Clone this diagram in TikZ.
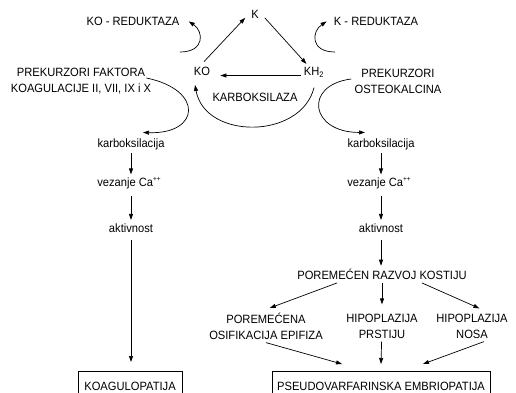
\documentclass[tikz,border=0pt]{standalone}
\usepackage{fontspec}
\setmainfont{Liberation Sans}[FakeStretch=0.93]
\usetikzlibrary{arrows.meta}

\begin{document}
\begin{tikzpicture}[x=1pt, y=-1pt, line width=0.7pt,
  >={Triangle[length=6pt,width=4pt]},
  every node/.style={font=\fontsize{12}{16}\selectfont, inner sep=3pt},
  endbox/.style={draw, anchor=north, minimum height=31pt, inner xsep=2pt}]

\useasboundingbox (0,0) rectangle (516,393);

\clip (0,0) rectangle (516,393);

\node[anchor=base] (K) at (255,19) {K};

\node[anchor=base] (KOred) at (133,25.5) {KO - REDUKTAZA};

\node[anchor=base] (Kred) at (376,25.5) {K - REDUKTAZA};

\node[anchor=base] (KO) at (202,75.5) {KO};

\node[anchor=base] (KH2) at (314,75.5) {KH\textsubscript{2}};

\node[anchor=base] (karbox) at (255,102) {KARBOKSILAZA};

\node[align=center] (prekL) at (81,81) {PREKURZORI FAKTORA\\KOAGULACIJE II, VII, IX i X};

\node[align=center] (prekR) at (398,81) {PREKURZORI\\OSTEOKALCINA};

\node[anchor=base] (karbL) at (131,147.5) {karboksilacija};

\node[anchor=base] (vezL) at (129,186.5) {vezanje Ca\smash{\raisebox{5pt}{\scriptsize ++}}};

\node[anchor=base] (aktL) at (131,232) {aktivnost};

\node[anchor=base] (karbR) at (381,147.5) {karboksilacija};

\node[anchor=base] (vezR) at (379,186.5) {vezanje Ca\smash{\raisebox{5pt}{\scriptsize ++}}};

\node[anchor=base] (aktR) at (381,232) {aktivnost};

\node[anchor=base] (porem) at (382,279.5) {POREMEĆEN RAZVOJ KOSTIJU};

\node[align=center] (osif) at (266,326) {POREMEĆENA\\OSIFIKACIJA EPIFIZA};

\node[align=center] (hipP) at (382,326) {HIPOPLAZIJA\\PRSTIJU};

\node[align=center] (hipN) at (472,326) {HIPOPLAZIJA\\NOSA};

\node[endbox, minimum width=104pt] (koag) at (130,371) {KOAGULOPATIJA};

\node[endbox, minimum width=218pt] (pseudo) at (381,371) {PSEUDOVARFARINSKA EMBRIOPATIJA};

\coordinate (KOcurl) at (180,52);

\coordinate (Kcurl) at (335,52);

\draw[->, shorten <=3pt, shorten >=4pt] (KO.north) -- (K.west);

\draw[->, shorten <=4pt] (K.east) -- (KH2);

\draw[->, shorten >=7pt] (KH2.base west) -- (KO.base east);

\draw[->] ([yshift=-7pt]KH2.south) .. controls +(-13,52) and +(10,55) .. ([xshift=-7pt,yshift=-6pt]KO.south);

\draw[->] (KOcurl) .. controls +(25,0) and +(15,10) .. ([xshift=6pt]KOred.east);

\draw[->] (Kcurl) .. controls +(-25,0) and +(-15,10) .. ([xshift=-4pt]Kred.west);

\draw[->] ([xshift=-8pt,yshift=3pt]prekL.east) .. controls +(58,12) and +(57,2) .. ([xshift=12pt,yshift=3pt]karbL.north);

\draw[->] ([yshift=2pt]prekR.west) .. controls +(-48,6) and +(-55,0) .. ([xshift=-16pt,yshift=3pt]karbR.north);

\draw[->] (karbL) -- (karbL |- vezL.north);

\draw[->, shorten <=4pt] (vezL.south -| aktL) -- (aktL);

\draw[->, shorten <=5pt, shorten >=9pt] (aktL) -- (aktL |- koag.north);

\draw[->] (karbR) -- (karbR |- vezR.north);

\draw[->, shorten <=4pt] (vezR.south -| aktR) -- (aktR);

\draw[->, shorten <=5pt] (aktR) -- (aktR |- porem.north);

\draw[->, shorten >=4pt] ([xshift=-45pt]porem.south) -- (osif.north);

\draw[->, shorten >=6pt] (porem) -- (hipP);

\draw[->, shorten >=5pt] ([xshift=40pt]porem.south) -- ([xshift=12pt]hipN.north);

\draw[->] (osif.south) -- ([xshift=-39pt,yshift=7pt]pseudo.north);

\draw[->] (hipP) -- ([yshift=7pt]pseudo.north);

\draw[->] ([xshift=12pt]hipN.south) -- ([xshift=42pt,yshift=7pt]pseudo.north);

\end{tikzpicture}
\end{document}
